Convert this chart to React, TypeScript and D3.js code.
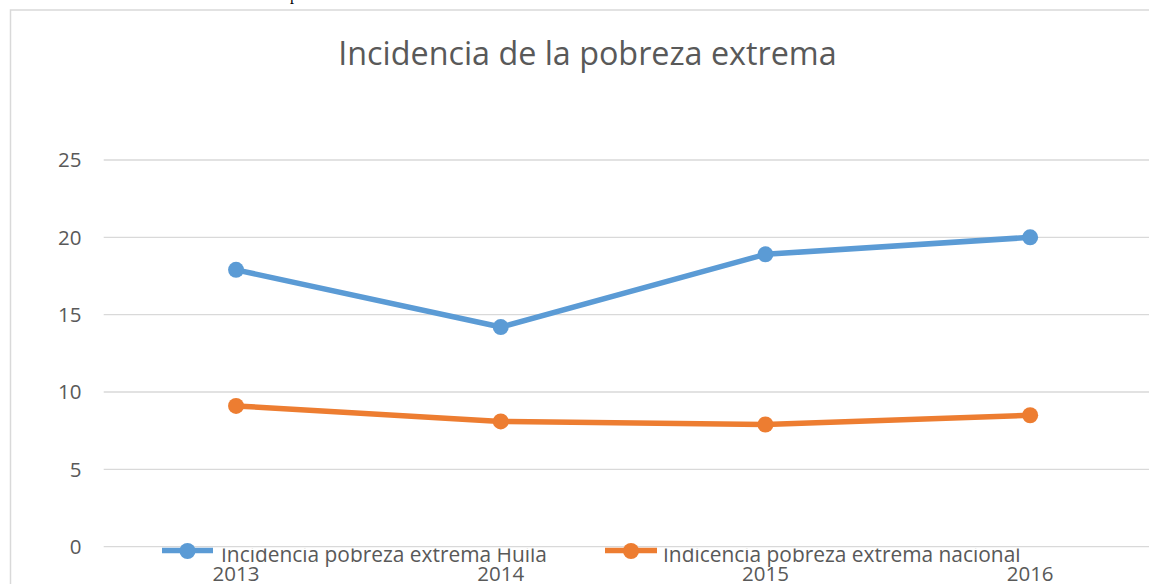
import * as d3 from "d3";

const years = ["2013", "2014", "2015", "2016"];
const huila = [17.9, 14.2, 18.9, 20.0];
const nacional = [9.1, 8.1, 7.9, 8.5];
const yTicks = [0, 5, 10, 15, 20, 25];
const seriesNames = ["Incidencia pobreza extrema Huila", "Indicencia pobreza extrema nacional"];
const seriesColors = ["#5B9BD5", "#ED7D31"];
const title = "Incidencia de la pobreza extrema";

const W = 1149;
const H = 584;
const FONT = "'Open Sans', 'Noto Sans', sans-serif";

export default function App() {
  const x = d3.scaleBand<string>().domain(years).range([103.7, 1162.5]);
  const cx = (yr: string) => (x(yr) ?? 0) + x.bandwidth() / 2;
  const y = d3.scaleLinear().domain([0, 25]).range([546.7, 160]);

  const line = d3
    .line<number>()
    .x((_, i) => cx(years[i]))
    .y((d) => y(d));

  const series = [huila, nacional];
  const legendPos = [
    { x1: 162, x2: 213, tx: 221 },
    { x1: 605, x2: 657, tx: 663 },
  ];

  return (
    <div style={{ position: "absolute", left: 0, top: 0 }}>
      <svg width={W} height={H} style={{ display: "block", background: "#fff" }}>
        <defs>
          <clipPath id="legendClip">
            <rect x={0} y={548.5} width={W} height={60} />
          </clipPath>
        </defs>

        {/* stray text from the page above */}
        <text x={290} y={0} fontFamily="'Liberation Serif', serif" fontSize={16} fill="#000">
          p
        </text>

        <rect x={10.5} y={10} width={1300} height={800} fill="#fff" stroke="#D9D9D9" strokeWidth={1.5} />

        <text x={587.5} y={65} textAnchor="middle" fontFamily={FONT} fontSize={32.3} fill="#595959">
          {title}
        </text>

        {yTicks.map((t) => (
          <g key={t}>
            <line x1={103.7} x2={1162.5} y1={y(t)} y2={y(t)} stroke="#D9D9D9" strokeWidth={1.3} />
            <text x={81.5} y={y(t)} dy="0.36em" textAnchor="end" fontFamily={FONT} fontSize={20.5} fill="#595959">
              {t}
            </text>
          </g>
        ))}

        {years.map((yr) => (
          <text key={yr} x={cx(yr)} y={581} textAnchor="middle" fontFamily={FONT} fontSize={20.5} fill="#595959">
            {yr}
          </text>
        ))}

        {series.map((s, si) => (
          <g key={si}>
            <path d={line(s) ?? ""} fill="none" stroke={seriesColors[si]} strokeWidth={5.5} strokeLinejoin="round" />
            {s.map((v, i) => (
              <circle key={i} cx={cx(years[i])} cy={y(v)} r={8} fill={seriesColors[si]} />
            ))}
          </g>
        ))}

        {seriesNames.map((name, si) => {
          const p = legendPos[si];
          return (
            <g key={name}>
              <line x1={p.x1} x2={p.x2} y1={550.5} y2={550.5} stroke={seriesColors[si]} strokeWidth={5.5} />
              <circle cx={(p.x1 + p.x2) / 2} cy={551} r={8} fill={seriesColors[si]} />
              <text
                x={p.tx}
                y={561.5}
                clipPath="url(#legendClip)"
                fontFamily={FONT}
                fontSize={20.9}
                fill="#595959"
              >
                {name}
              </text>
            </g>
          );
        })}
      </svg>
    </div>
  );
}
